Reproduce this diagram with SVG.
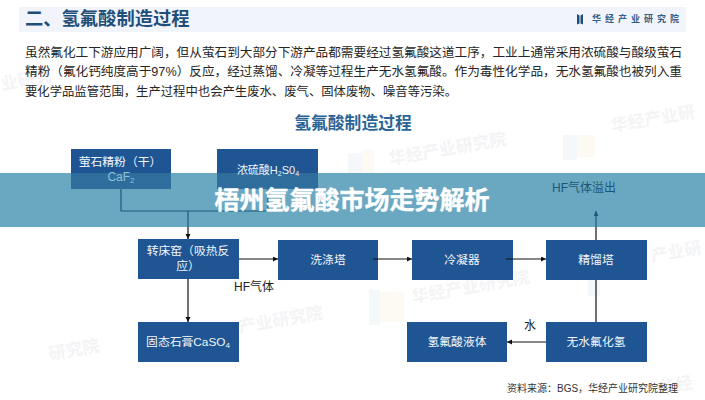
<svg xmlns="http://www.w3.org/2000/svg" width="705" height="400" viewBox="0 0 705 400">
<style>
text{font-family:"Liberation Sans","Noto Sans CJK SC",sans-serif}
.b{fill:#1f5593}
.o{fill:#2e6d9c}
.n{fill:#f2f6fa;font-size:11.800px;text-anchor:middle}
.p{fill:#262626;font-size:12.400px}
.c{fill:none;stroke:#111;stroke-width:1.200}
.d{fill:none;stroke:#1e5a78;stroke-width:1.200}
.w{fill:#e6e8ec;font-size:17px;font-weight:bold;opacity:.45}
.s{fill:#eef3f9;opacity:.6}
.y{fill:#fbf8ec;opacity:.7}
</style>
<defs>
<marker id="a" markerWidth="6" markerHeight="6" refX="5" refY="2.500" orient="auto" markerUnits="userSpaceOnUse"><path d="M0 0L5 2.500L0 5Z" fill="#111"/></marker>
<marker id="e" markerWidth="6" markerHeight="6" refX="5" refY="2.500" orient="auto" markerUnits="userSpaceOnUse"><path d="M0 0L5 2.500L0 5Z" fill="#1e5a78"/></marker>
</defs>
<rect width="705" height="400" fill="#fff"/>
<g id="watermarks">
<rect class="s" x="348" y="153" width="14" height="20"/><rect class="y" x="362" y="150" width="12" height="23"/>
<rect class="s" x="563" y="135" width="14" height="25"/><rect class="y" x="577" y="135" width="18" height="22"/>
<rect class="s" x="369" y="290" width="11" height="35"/>
<rect class="y" x="380" y="292" width="24" height="30"/>
<rect class="s" x="588" y="280" width="12" height="16"/>
<text class="w" x="390" y="165" transform="rotate(-10 390 165)">华经产业研究院</text>
<text class="w" x="240" y="333" transform="rotate(-10 240 333)">产业研究院</text>
<text class="w" x="413" y="303" transform="rotate(-10 413 303)">华经产业研究院</text>
<text class="w" x="612" y="132" transform="rotate(-10 612 132)">华经产业研</text>
<text class="w" x="50" y="360" transform="rotate(-10 50 360)">研究院</text>
<text class="w" x="652" y="262" transform="rotate(-10 652 262)">产业研</text>
<text class="w" x="660" y="394" transform="rotate(-10 660 394)">华经</text>
<text class="w" x="2" y="90" transform="rotate(-10 2 90)">业研究</text>
</g>
<g id="header">
<rect x="19" y="7" width="667" height="25" fill="#f1f5fb"/>
<text x="25" y="25" font-size="18.300" font-weight="bold" fill="#1f4e79">二、氢氟酸制造过程</text>
<path d="M577 14l2.500 1.500v8l-2.500 1ZM580.500 15.500l2.500 -1.500v10.500l-2.500 -1Z" fill="#1f4e79"/>
<text x="592" y="22" font-size="9" font-weight="bold" fill="#2f5f8a" letter-spacing="4">华经产业研究院</text>
</g>
<g id="intro">
<text class="p" x="25" y="57" textLength="657" lengthAdjust="spacingAndGlyphs">虽然氟化工下游应用广阔，但从萤石到大部分下游产品都需要经过氢氟酸这道工序，工业上通常采用浓硫酸与酸级萤石</text>
<text class="p" x="25" y="76" textLength="657" lengthAdjust="spacingAndGlyphs">精粉（氟化钙纯度高于97%）反应，经过蒸馏、冷凝等过程生产无水氢氟酸。作为毒性化学品，无水氢氟酸也被列入重</text>
<text class="p" x="25" y="96" textLength="432" lengthAdjust="spacingAndGlyphs">要化学品监管范围，生产过程中也会产生废水、废气、固体废物、噪音等污染。</text>
<text x="353" y="129" font-size="16.800" font-weight="bold" fill="#2b6496" text-anchor="middle">氢氟酸制造过程</text>
</g>
<rect id="banner" x="0" y="173" width="705" height="54" fill="#6aa8c2"/>
<g id="n1"><rect class="b" x="71" y="149" width="100" height="24"/><rect class="o" x="71" y="173" width="100" height="16"/><text class="n" x="120" y="166">萤石精粉（干）</text><text x="121" y="181" font-size="12" text-anchor="middle" fill="#8fc0d6">CaF<tspan font-size="8" dy="2">2</tspan></text></g>
<g id="n2"><rect class="b" x="217" y="149" width="101" height="24"/><rect class="o" x="217" y="173" width="101" height="16"/><text class="n" x="268" y="174" style="font-size:11px">浓硫酸H<tspan font-size="7" dy="2">2</tspan><tspan dy="-2">S0</tspan><tspan font-size="7" dy="2">4</tspan></text></g>
<g id="n3"><rect class="b" x="138" y="239" width="101" height="40"/><text class="n" x="188" y="255">转床窑（吸热反</text><text class="n" x="188" y="270">应）</text></g>
<g id="n4"><rect class="b" x="278" y="240" width="100" height="40"/><text class="n" x="328" y="264">洗涤塔</text></g>
<g id="n5"><rect class="b" x="412" y="240" width="101" height="40"/><text class="n" x="462" y="264">冷凝器</text></g>
<g id="n6"><rect class="b" x="546" y="240" width="101" height="40"/><text class="n" x="596" y="264">精馏塔</text></g>
<g id="n7"><rect class="b" x="138" y="322" width="101" height="40"/><text class="n" x="188" y="346">固态石膏CaSO<tspan font-size="8" dy="2">4</tspan></text></g>
<g id="n8"><rect class="b" x="407" y="322" width="100" height="40"/><text class="n" x="457" y="346">氢氟酸液体</text></g>
<g id="n9"><rect class="b" x="546" y="322" width="101" height="40"/><text class="n" x="596" y="346">无水氟化氢</text></g>
<g id="connectors">
<path class="d" d="M121 189V211H268V189M188 211V227"/>
<path class="c" d="M188 227V239" marker-end="url(#a)"/>
<path class="c" d="M239 259H278" marker-end="url(#a)"/>
<path class="c" d="M373 259H412" marker-end="url(#a)"/>
<path class="c" d="M506 259H546" marker-end="url(#a)"/>
<path class="c" d="M596 240V227"/>
<path class="d" d="M596 227V211" marker-end="url(#e)"/>
<path class="c" d="M596 280V322"/>
<path class="c" d="M188 279V322" marker-end="url(#a)"/>
<path class="c" d="M546 342H507" marker-end="url(#a)"/>
</g>
<g id="labels">
<text x="552" y="192" font-size="12" fill="#1d5674">HF气体溢出</text>
<text x="234" y="291" font-size="12" fill="#222">HF气体</text>
<text x="530" y="330" font-size="12" fill="#222" text-anchor="middle">水</text>
<text x="507" y="392" font-size="10" fill="#333">资料来源：BGS，华经产业研究院整理</text>
</g>
<text id="banner-title" x="352" y="209" font-size="25" font-weight="bold" fill="#fff" stroke="#fff" stroke-width=".4" text-anchor="middle">梧州氢氟酸市场走势解析</text>
</svg>
